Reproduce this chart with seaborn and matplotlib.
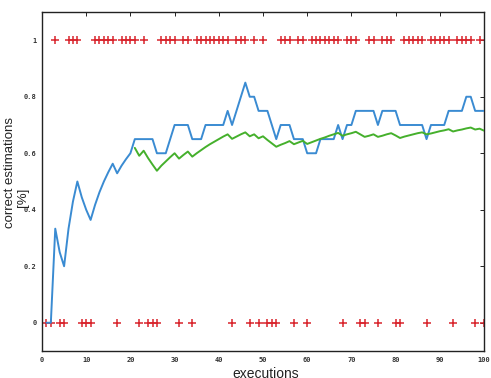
import matplotlib
matplotlib.use("Agg")
import matplotlib.pyplot as plt
import seaborn as sns
import pandas as pd

# Run index of each estimation
executions = list(range(1, 101))

# 1 = estimation correct, 0 = estimation wrong
outcome = [0, 0, 1, 0, 0, 1, 1, 1, 0, 0,
           0, 1, 1, 1, 1, 1, 0, 1, 1, 1,
           1, 0, 1, 0, 0, 0, 1, 1, 1, 1,
           0, 1, 1, 0, 1, 1, 1, 1, 1, 1,
           1, 1, 0, 1, 1, 1, 0, 1, 0, 1,
           0, 0, 0, 1, 1, 1, 0, 1, 1, 0,
           1, 1, 1, 1, 1, 1, 1, 0, 1, 1,
           1, 0, 0, 1, 1, 0, 1, 1, 1, 0,
           0, 1, 1, 1, 1, 1, 0, 1, 1, 1,
           1, 1, 0, 1, 1, 1, 1, 0, 1, 0]

# Share of correct estimations over the most recent runs (window of 20)
recent_rate = [0.0, 0.0, 0.333, 0.25, 0.2, 0.333, 0.429, 0.5, 0.444, 0.4,
               0.364, 0.417, 0.462, 0.5, 0.533, 0.563, 0.529, 0.556, 0.579, 0.6,
               0.65, 0.65, 0.65, 0.65, 0.65, 0.6, 0.6, 0.6, 0.65, 0.7,
               0.7, 0.7, 0.7, 0.65, 0.65, 0.65, 0.7, 0.7, 0.7, 0.7,
               0.7, 0.75, 0.7, 0.75, 0.8, 0.85, 0.8, 0.8, 0.75, 0.75,
               0.75, 0.7, 0.65, 0.7, 0.7, 0.7, 0.65, 0.65, 0.65, 0.6,
               0.6, 0.6, 0.65, 0.65, 0.65, 0.65, 0.7, 0.65, 0.7, 0.7,
               0.75, 0.75, 0.75, 0.75, 0.75, 0.7, 0.75, 0.75, 0.75, 0.75,
               0.7, 0.7, 0.7, 0.7, 0.7, 0.7, 0.65, 0.7, 0.7, 0.7,
               0.7, 0.75, 0.75, 0.75, 0.75, 0.8, 0.8, 0.75, 0.75, 0.75]

# Overall share of correct estimations, from run 21 on
overall_runs = list(range(21, 101))
overall_rate = [0.619, 0.591, 0.609, 0.583, 0.56, 0.538, 0.556, 0.571, 0.586, 0.6,
                0.581, 0.594, 0.606, 0.588, 0.6, 0.611, 0.622, 0.632, 0.641, 0.65,
                0.659, 0.667, 0.651, 0.659, 0.667, 0.674, 0.66, 0.667, 0.653, 0.66,
                0.647, 0.635, 0.623, 0.63, 0.636, 0.643, 0.632, 0.638, 0.644, 0.633,
                0.639, 0.645, 0.651, 0.656, 0.662, 0.667, 0.672, 0.662, 0.667, 0.671,
                0.676, 0.667, 0.658, 0.662, 0.667, 0.658, 0.662, 0.667, 0.671, 0.663,
                0.654, 0.659, 0.663, 0.667, 0.671, 0.674, 0.667, 0.67, 0.674, 0.678,
                0.681, 0.685, 0.677, 0.681, 0.684, 0.688, 0.691, 0.684, 0.687, 0.68]

x_ticks = [0, 10, 20, 30, 40, 50, 60, 70, 80, 90, 100]
x_tick_labels = ["0", "10", "20", "30", "40", "50", "60", "70", "80", "90", "100"]
y_ticks = [0, 0.2, 0.4, 0.6, 0.8, 1]
y_tick_labels = ["0", "0.2", "0.4", "0.6", "0.8", "1"]

runs_df = pd.DataFrame({"run": executions, "outcome": outcome, "recent": recent_rate})
overall_df = pd.DataFrame({"run": overall_runs, "overall": overall_rate})

sns.set_style("white")
plt.rcParams["font.family"] = ["Liberation Sans", "DejaVu Sans"]

fig = plt.figure(figsize=(4.91, 3.78), dpi=100)
ax = fig.add_axes([42 / 491, 27 / 378, 442 / 491, 339 / 378])

sns.scatterplot(data=runs_df, x="run", y="outcome", marker="+", s=26,
                color="#d8242c", linewidth=1.1, ax=ax, zorder=2, legend=False)
sns.lineplot(data=runs_df, x="run", y="recent", color="#3a8bd2",
             linewidth=1.4, ax=ax, zorder=3, legend=False)
sns.lineplot(data=overall_df, x="run", y="overall", color="#45b02c",
             linewidth=1.4, ax=ax, zorder=3, legend=False)

ax.set_xlim(0, 100)
ax.set_ylim(-0.1, 1.1)
ax.set_xticks(x_ticks)
ax.set_xticklabels(x_tick_labels)
ax.set_yticks(y_ticks)
ax.set_yticklabels(y_tick_labels)
ax.set_xlabel("")
ax.set_ylabel("")

ax.tick_params(direction="in", length=3, width=0.7, color="#222222",
               top=True, right=True, labelsize=5, labelcolor="#333333", pad=4)
for lab in ax.get_xticklabels() + ax.get_yticklabels():
    lab.set_fontfamily("DejaVu Sans Mono")
    lab.set_fontweight("bold")

for side in ["left", "right", "top", "bottom"]:
    ax.spines[side].set_visible(True)
    ax.spines[side].set_color("#222222")
    ax.spines[side].set_linewidth(1.0)

fig.text(10 / 491, 1 - 172 / 378, "correct estimations", rotation=90,
         ha="center", va="center", fontsize=9.5, color="#222222")
fig.text(23 / 491, 1 - 197 / 378, "[%]", rotation=90,
         ha="center", va="center", fontsize=9.5, color="#222222")
fig.text(266 / 491, 1 - 367 / 378, "executions", ha="center", va="top",
         fontsize=10, color="#222222")

fig.savefig("out.png", dpi=100)
